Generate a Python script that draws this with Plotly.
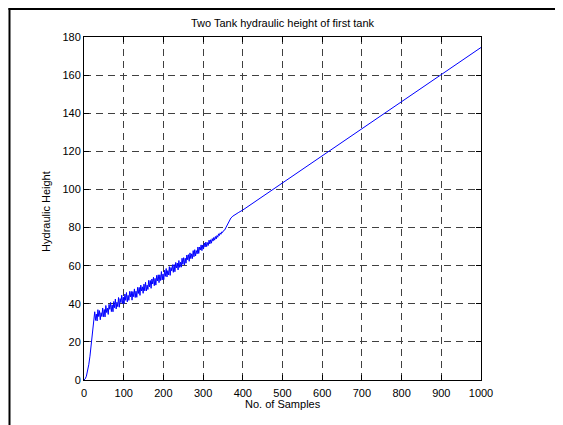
import plotly.graph_objects as go

# Samples and hydraulic height
rise_x = [0, 3, 6, 9, 12, 15, 18, 21, 24]
rise_y = [0, 0.6, 2.0, 4.5, 8.0, 12.5, 18.0, 24.0, 30.0]

noisy_x = list(range(27, 352, 2))
noisy_y = [
    35.8, 31.3, 34.6, 31.0, 36.9, 33.3, 36.4, 31.6, 35.3, 33.3, 37.8, 33.2,
    37.0, 33.1, 39.1, 35.4, 37.7, 34.4, 39.7, 37.1, 40.7, 35.9, 39.4, 35.8,
    41.2, 37.9, 42.5, 37.3, 40.8, 38.5, 43.3, 38.2, 42.7, 40.6, 44.5, 40.0, 43.5,
    40.0, 45.1, 41.8, 45.9, 41.0, 44.4, 41.8, 46.5, 43.6, 46.5, 41.9, 46.4, 43.7,
    47.8, 43.3, 46.6, 43.4, 48.6, 45.4, 48.6, 44.4, 49.8, 46.7, 48.9, 45.5,
    50.3, 46.8, 51.3, 46.7, 49.8, 47.5, 52.3, 48.9, 52.2, 48.1, 53.0, 50.4, 53.9,
    49.5, 53.3, 49.8, 54.9, 52.0, 55.2, 51.1, 55.2, 52.2, 56.9, 52.5, 55.6,
    52.7, 57.6, 54.4, 58.5, 54.1, 57.4, 55.1, 59.5, 54.9, 59.0, 57.3, 60.5, 56.5,
    60.6, 56.8, 61.7, 58.8, 61.4, 57.8, 62.7, 59.1, 61.8, 59.2, 63.9, 60.7,
    64.2, 60.3, 63.9, 61.3, 65.6, 63.1, 65.8, 62.3, 66.7, 63.7, 66.2, 63.7, 67.9,
    64.7, 68.4, 65.1, 67.9, 66.2, 69.8, 66.4, 69.8, 68.2, 70.9, 67.9, 70.8,
    68.7, 71.9, 69.8, 72.4, 70.0, 72.1, 70.6, 73.4, 71.4, 73.6, 71.8, 74.2, 72.9,
    74.8, 73.4, 75.3, 74.0, 75.8, 74.9, 76.7, 75.8, 77.2, 76.5,
    77.7, 77.4, 78.3,
]

smooth_x = [354, 357, 360, 365, 370, 375, 380, 390, 400, 450, 500, 600, 700, 800, 900, 1000]
smooth_y = [78.6, 79.8, 81.5, 83.5, 85.0, 86.0, 86.8, 88.0, 89.2, 96.3, 103.5, 117.7, 132.0, 146.2, 160.4, 174.5]

samples = rise_x + noisy_x + smooth_x
height = rise_y + noisy_y + smooth_y

x_ticks = [0, 100, 200, 300, 400, 500, 600, 700, 800, 900, 1000]
y_ticks = [0, 20, 40, 60, 80, 100, 120, 140, 160, 180]

FONT = "Liberation Sans, Arial, sans-serif"

fig = go.Figure()
fig.add_trace(go.Scatter(x=samples, y=height, mode="lines",
                         line=dict(color="#0000FF", width=1), showlegend=False,
                         hoverinfo="skip"))

axis_common = dict(
    showline=True, linecolor="black", linewidth=1, mirror="ticks",
    ticks="inside", ticklen=5, tickcolor="black", tickwidth=1,
    showgrid=True, gridcolor="#404040", gridwidth=1, griddash="7px,5px",
    zeroline=False, tickfont=dict(family=FONT, size=11, color="black"),
)

fig.update_xaxes(range=[0, 1000], tickvals=x_ticks, ticktext=[str(v) for v in x_ticks],
                 ticklabelstandoff=3, **axis_common)
fig.update_yaxes(range=[0, 180], tickvals=y_ticks, ticktext=[str(v) for v in y_ticks], **axis_common)

# page body adds an 8px offset, so the figure is laid out 8px up/left
W, H = 555, 417
L, T = 76, 29
R = W - 473
B = H - 372
pw, ph = W - L - R, H - T - B

def px(xp):
    return (xp - L) / pw

def py(yp):
    return (H - B - yp) / ph

fig.update_layout(
    width=W, height=H,
    margin=dict(l=L, r=R, t=T, b=B, pad=0),
    paper_bgcolor="white", plot_bgcolor="white",
    font=dict(family=FONT, size=11, color="black"),
    title=dict(text="Two Tank hydraulic height of first tank", x=0.5, xref="paper",
               xanchor="center", y=1 - 15 / H, yanchor="middle",
               font=dict(family=FONT, size=11, color="black")),
    annotations=[
        dict(text="No. of Samples", xref="paper", yref="paper", x=0.5, y=py(396),
             xanchor="center", yanchor="middle", showarrow=False,
             font=dict(family=FONT, size=11, color="black")),
        dict(text="Hydraulic Height", xref="paper", yref="paper", x=px(38), y=0.49,
             xanchor="center", yanchor="middle", showarrow=False, textangle=-90,
             font=dict(family=FONT, size=11, color="black")),
    ],
    shapes=[
        dict(type="line", xref="paper", yref="paper", x0=px(1.5), x1=px(1.5), y0=py(0), y1=py(H + 2),
             line=dict(color="black", width=2)),
        dict(type="line", xref="paper", yref="paper", x0=px(0.5), x1=px(W + 2), y0=py(1), y1=py(1),
             line=dict(color="black", width=2)),
    ],
)

fig.write_html("out.html")
